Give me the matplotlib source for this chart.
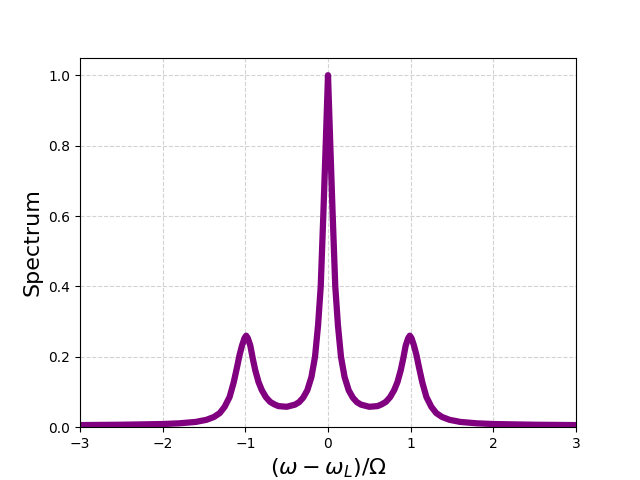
import matplotlib
matplotlib.use('Agg')
import matplotlib.pyplot as plt

# Points (symmetric around 0)
x_vals = [-3.0, -2.5, -2.0, -1.8, -1.6, -1.47, -1.38, -1.31, -1.25, -1.19, -1.14, -1.1, -1.07, -1.04,
          -1.01, -0.99, -0.97, -0.94, -0.91, -0.88, -0.84, -0.8, -0.75, -0.7, -0.65, -0.6, -0.5, -0.4,
          -0.35, -0.3, -0.25, -0.2, -0.157, -0.12, -0.088, -0.057, -0.028, 0.0,
          0.028, 0.057, 0.088, 0.12, 0.157, 0.2, 0.25, 0.3, 0.35, 0.4, 0.5, 0.6, 0.65, 0.7, 0.75,
          0.8, 0.84, 0.88, 0.91, 0.94, 0.97, 0.99, 1.01, 1.04, 1.07, 1.1, 1.14, 1.19, 1.25, 1.31,
          1.38, 1.47, 1.6, 1.8, 2.0, 2.5, 3.0]
spectrum = [0.006, 0.007, 0.009, 0.011, 0.015, 0.021, 0.029, 0.04, 0.058, 0.086, 0.128, 0.171, 0.205, 0.232,
            0.253, 0.26, 0.253, 0.232, 0.195, 0.162, 0.128, 0.105, 0.085, 0.072, 0.065, 0.06, 0.058, 0.064,
            0.071, 0.084, 0.105, 0.143, 0.2, 0.29, 0.4, 0.6, 0.8, 1.0,
            0.8, 0.6, 0.4, 0.29, 0.2, 0.143, 0.105, 0.084, 0.071, 0.064, 0.058, 0.06, 0.065, 0.072, 0.085,
            0.105, 0.128, 0.162, 0.195, 0.232, 0.253, 0.26, 0.253, 0.232, 0.205, 0.171, 0.128, 0.086, 0.058, 0.04,
            0.029, 0.021, 0.015, 0.011, 0.009, 0.007, 0.006]

fig, ax = plt.subplots(figsize=(6.4, 4.8), dpi=100)
ax.plot(x_vals, spectrum, color='purple', lw=4.5)
ax.set_xlim(-3, 3)
ax.set_ylim(0, 1.05)
ax.grid(True, linestyle='--', color='lightgray')
ax.set_xlabel(r'$(\omega - \omega_L)/\Omega$', fontsize=16)
ax.set_ylabel('Spectrum', fontsize=16)

plt.savefig('out.png', dpi=100)
